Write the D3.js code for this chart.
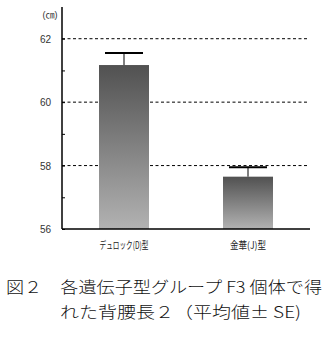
<!DOCTYPE html>
<html>
<head>
<meta charset="utf-8">
<script src="https://cdn.jsdelivr.net/npm/d3@7"></script>
<style>
  body { margin: 0; background: #fff; }
  svg { display: block; }
</style>
</head>
<body>
<svg class="chart"></svg>
<script>
// data
var categories = ["デュロック(D)型", "金華(J)型"];
var means = [61.17, 57.65];
var errors = [0.38, 0.3];
var gridValues = [58, 60, 62];
var tickLabels = [56, 58, 60, 62];
var captionLines = ["図２　各遺伝子型グループ F3 個体で得", "れた背腰長２（平均値± SE)"];

var width = 334, height = 352;
var svg = d3.select(".chart").attr("width", width).attr("height", height);

var x = d3.scalePoint().domain(categories).range([62, 310]).padding(0.5);
var y = d3.scaleLinear().domain([56, 63]).range([229, 7]);
var barW = 50;

var defs = svg.append("defs");
var grad = defs.append("linearGradient")
    .attr("id", "barGrad")
    .attr("x1", 0).attr("y1", 0).attr("x2", 0).attr("y2", 1);
grad.append("stop").attr("offset", "0%").attr("stop-color", "#515151");
grad.append("stop").attr("offset", "100%").attr("stop-color", "#b2b2b2");

// dashed gridlines
svg.append("g").selectAll("line")
    .data(gridValues)
    .enter().append("line")
    .attr("x1", 62).attr("x2", 309)
    .attr("y1", function(d) { return y(d); })
    .attr("y2", function(d) { return y(d); })
    .attr("stroke", "#000")
    .attr("stroke-width", 1)
    .attr("stroke-dasharray", "3,2.5");

// bars
svg.append("g").selectAll("rect")
    .data(means)
    .enter().append("rect")
    .attr("x", function(d, i) { return x(categories[i]) - barW / 2; })
    .attr("y", function(d) { return y(d); })
    .attr("width", barW)
    .attr("height", function(d) { return y(56) - y(d); })
    .attr("fill", "url(#barGrad)");

// error bars
var eb = svg.append("g").selectAll("g")
    .data(means)
    .enter().append("g");
eb.append("line")
    .attr("x1", function(d, i) { return x(categories[i]); })
    .attr("x2", function(d, i) { return x(categories[i]); })
    .attr("y1", function(d) { return y(d); })
    .attr("y2", function(d, i) { return y(d + errors[i]); })
    .attr("stroke", "#000").attr("stroke-width", 1);
eb.append("line")
    .attr("x1", function(d, i) { return x(categories[i]) - 19; })
    .attr("x2", function(d, i) { return x(categories[i]) + 19; })
    .attr("y1", function(d, i) { return y(d + errors[i]); })
    .attr("y2", function(d, i) { return y(d + errors[i]); })
    .attr("stroke", "#000").attr("stroke-width", 2);

// y axis
var yAxis = d3.axisRight(y)
    .tickValues(d3.range(56, 63))
    .tickSize(3)
    .tickFormat("");
var ya = svg.append("g").attr("transform", "translate(62,0)").call(yAxis);
ya.select(".domain").attr("d", "M0," + y(63) + "V" + y(56)).attr("stroke-width", 1.5);

svg.append("g").selectAll("text")
    .data(tickLabels)
    .enter().append("text")
    .attr("x", 51)
    .attr("y", function(d) { return y(d) + 4; })
    .attr("text-anchor", "end")
    .attr("font-family", "Liberation Sans, Arial, sans-serif")
    .attr("font-size", 10)
    .attr("fill", "#333")
    .text(function(d) { return d; });

svg.append("text")
    .attr("x", 50).attr("y", 18)
    .attr("text-anchor", "middle")
    .attr("font-family", "Liberation Sans, Noto Sans CJK JP, sans-serif")
    .attr("font-size", 9)
    .attr("fill", "#333")
    .text("(㎝)");

// x axis baseline
svg.append("line")
    .attr("x1", 62).attr("x2", 310)
    .attr("y1", y(56)).attr("y2", y(56))
    .attr("stroke", "#000").attr("stroke-width", 1.5);

svg.append("g").selectAll("text")
    .data(categories)
    .enter().append("text")
    .attr("x", function(d) { return x(d); })
    .attr("y", 249)
    .attr("text-anchor", "middle")
    .attr("font-family", "Noto Sans CJK JP, sans-serif")
    .attr("font-size", 10)
    .attr("fill", "#222")
    .attr("textLength", function(d, i) { return i === 0 ? 49 : 36; })
    .attr("lengthAdjust", "spacingAndGlyphs")
    .text(function(d) { return d; });

// caption
svg.append("g").selectAll("text")
    .data(captionLines)
    .enter().append("text")
    .attr("x", function(d, i) { return i === 0 ? 6 : 60; })
    .attr("y", function(d, i) { return 293 + i * 25; })
    .attr("font-family", "Noto Sans CJK JP, sans-serif")
    .attr("font-weight", 300)
    .attr("font-size", 16)
    .attr("fill", "#111")
    .attr("textLength", function(d, i) { return i === 0 ? 316 : 241; })
    .attr("lengthAdjust", "spacingAndGlyphs")
    .text(function(d) { return d; });
</script>
</body>
</html>
